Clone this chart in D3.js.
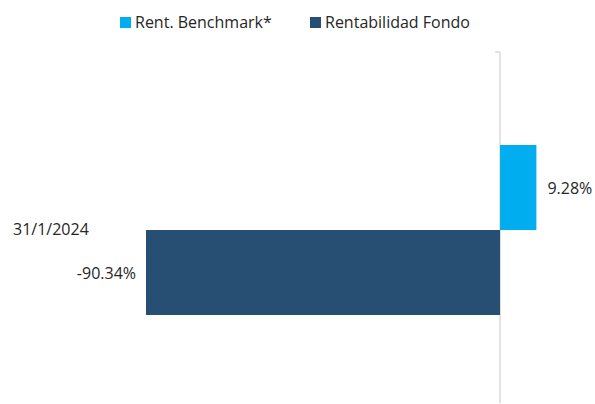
<!DOCTYPE html>
<html>
<head>
<meta charset="utf-8">
<script src="https://cdn.jsdelivr.net/npm/d3@7"></script>
<style>
  body { margin: 0; background: #fff; }
  svg text { font-family: "Open Sans", sans-serif; fill: #262626; }
</style>
</head>
<body>
<div id="chart"></div>
<script>
const categories = ['31/1/2024'];
const seriesNames = ['Rent. Benchmark*', 'Rentabilidad Fondo'];
const benchmark = [9.28];
const fondo = [-90.34];
const colors = ['#00AEEF', '#264F73'];

const width = 595, height = 404;

const svg = d3.select('#chart').append('svg')
  .attr('width', width)
  .attr('height', height);

// x scale: zero sits at 500px
const x = d3.scaleLinear().domain([-90.34, 9.28]).range([146, 536.4]);
const y = d3.scaleBand().domain(categories).range([57, 403]);
const ySeries = d3.scaleBand().domain(seriesNames).range([0, y.bandwidth()]).paddingOuter(1.035);

// zero axis
svg.append('line')
  .attr('x1', x(0)).attr('x2', x(0))
  .attr('y1', 52).attr('y2', 403)
  .attr('stroke', '#d9d9d9').attr('stroke-width', 1.5);
svg.append('line')
  .attr('x1', x(0) - 5).attr('x2', x(0))
  .attr('y1', 52).attr('y2', 52)
  .attr('stroke', '#d9d9d9').attr('stroke-width', 1.5);

const rows = categories.map((c, i) => ({ cat: c, values: [benchmark[i], fondo[i]] }));

rows.forEach(r => {
  r.values.forEach((v, j) => {
    const name = seriesNames[j];
    const by = y(r.cat) + ySeries(name);
    svg.append('rect')
      .attr('x', Math.min(x(0), x(v)))
      .attr('y', by)
      .attr('width', Math.abs(x(v) - x(0)))
      .attr('height', ySeries.bandwidth())
      .attr('fill', colors[j]);
    const lbl = svg.append('text')
      .attr('y', by + ySeries.bandwidth() / 2 + 1)
      .attr('dy', '0.35em')
      .attr('font-size', 16)
      .text(v.toFixed(2) + '%');
    if (v >= 0) lbl.attr('x', x(v) + 11).attr('text-anchor', 'start');
    else lbl.attr('x', x(v) - 10).attr('text-anchor', 'end');
  });
  // category label
  svg.append('text')
    .attr('x', 13)
    .attr('y', y(r.cat) + y.bandwidth() / 2 + 5)
    .attr('font-size', 16)
    .text(r.cat);
});

// legend
const legendX = [120, 310];
seriesNames.forEach((s, i) => {
  const lg = svg.append('g').attr('transform', `translate(${legendX[i]},17)`);
  lg.append('rect').attr('width', 11).attr('height', 11).attr('fill', colors[i]);
  lg.append('text').attr('x', 15).attr('y', 11).attr('font-size', 16).text(s);
});
</script>
</body>
</html>
